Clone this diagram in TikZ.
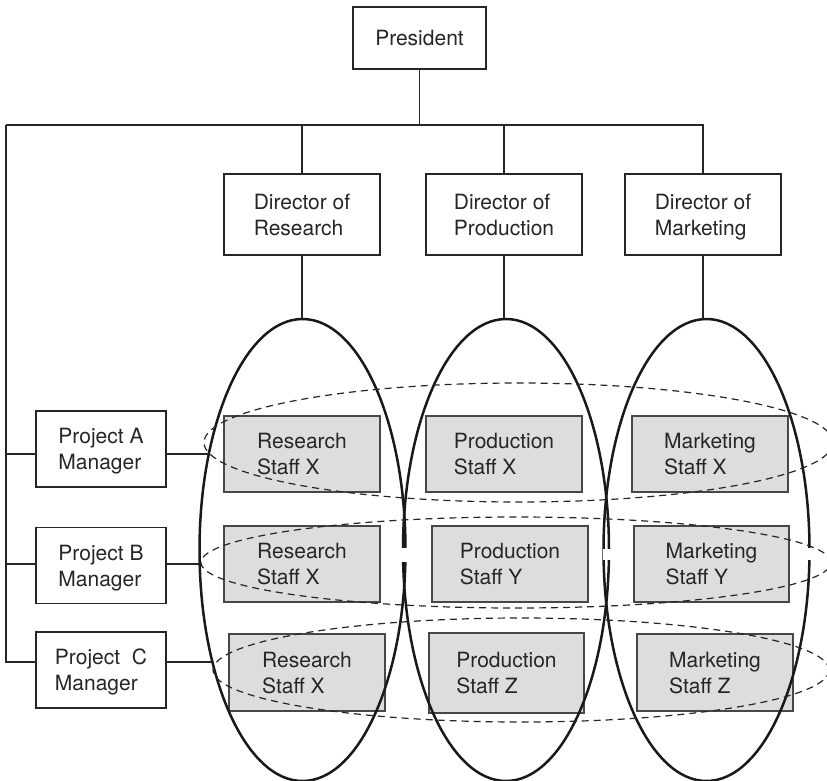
\documentclass[tikz,border=0pt]{standalone}
\usepackage{fontspec}
\setmainfont{TeX Gyre Heros}
\usetikzlibrary{shapes.geometric}
\definecolor{linec}{HTML}{262626}
\definecolor{boxgrey}{HTML}{DCDDDF}
\begin{document}
\begin{tikzpicture}[x=1pt,y=-1pt,
  lbl/.style={font=\fontsize{21}{26}\selectfont, text=linec},
  orgbox/.style={draw=linec, line width=1.4pt, fill=white, inner sep=0pt, outer sep=0pt, align=left, lbl,
    text depth=0pt},
  dirbox/.style={orgbox, minimum width=156pt, minimum height=81pt},
  mgrbox/.style={orgbox, minimum width=130pt, minimum height=76pt},
  staffbox/.style={orgbox, draw=linec!85, fill=boxgrey, minimum width=156pt, minimum height=76pt},
  conn/.style={draw=linec, line width=1.3pt},
  funcgrp/.style={ellipse, draw=black!90, line width=2.5pt, inner sep=0pt, outer sep=0pt, minimum width=206pt, minimum height=462pt},
  projgrp/.style={ellipse, draw=linec, line width=1.2pt, dash pattern=on 7pt off 5pt, inner sep=0pt, outer sep=0pt}
]
\useasboundingbox (0,0) rectangle (827,780);
\fill[white] (0,0) rectangle (827,780);

% top of the chart
\node[orgbox, minimum width=133pt, minimum height=62pt] (pres) at (419.5,38) {President};
\node[dirbox] (dres) at (302,214.5) {Director of\\Research};
\node[dirbox] (dpro) at (504,214.5) {Director of\\Production};
\node[dirbox] (dmkt) at (703,214.5) {Director of\\Marketing};

% project managers
\node[mgrbox] (pa) at (101,449) {Project A\\Manager};
\node[mgrbox, minimum height=75.5pt] (pb) at (101,565.5) {Project B\\Manager};
\node[mgrbox] (pc) at (101,670) {Project\ \ C\\Manager};

% staff
\node[staffbox] (rx1) at (302,454) {Research\\Staff X};
\node[staffbox] (rx2) at (302,564) {Research\\Staff X};
\node[staffbox, minimum height=77pt] (rx3) at (307,672.5) {Research\\Staff X};
\node[staffbox] (px) at (504,454) {Production\\Staff X};
\node[staffbox] (py) at (510,564) {Production\\Staff Y};
\node[staffbox, minimum width=155pt, minimum height=80pt] (pz) at (506.5,673) {Production\\Staff Z};
\node[staffbox] (mx) at (710,454) {Marketing\\Staff X};
\node[staffbox, minimum width=155pt] (my) at (711.5,564) {Marketing\\Staff Y};
\node[staffbox, minimum height=77pt] (mz) at (715,672.5) {Marketing\\Staff Z};

% functional groups (solid) and project groups (dashed)
\node[funcgrp] (eres) at (302.5,550) {};
\node[funcgrp] (epro) at (506,550) {};
\node[funcgrp] (emkt) at (706.5,550) {};
\node[projgrp, minimum width=629pt, minimum height=119pt] (rowa) at (518.5,442.5) {};
\node[projgrp, minimum width=630pt, minimum height=91pt] (rowb) at (516,562.5) {};
\node[projgrp, minimum width=616pt, minimum height=104pt] (rowc) at (521,670) {};

% small breaks in the solid outlines
\fill[white] (400,548) rectangle (408,562);
\fill[white] (603,549) rectangle (612,560);
\fill[white] (806,548) rectangle (813,560);

% connectors
\coordinate (busL) at (6,125);
\coordinate (ya) at (0,454);
\coordinate (yb) at (0,564);
\coordinate (yc) at (0,662);
\draw[conn] (pres.south) -- (pres.south |- busL);
\draw[conn] (busL) -- (dmkt.north |- busL) -- (dmkt.north);
\draw[conn] (dres.north |- busL) -- (dres.north);
\draw[conn] (dpro.north |- busL) -- (dpro.north);
\draw[conn] (dres.south) -- (dres.south |- eres.north);
\draw[conn] (dpro.south) -- (dpro.south |- epro.north);
\draw[conn] (dmkt.south) -- (dmkt.south |- emkt.north);
\draw[conn] (busL) -- (busL |- yc) -- (pc.west |- yc);
\draw[conn] (busL |- ya) -- (pa.west |- ya);
\draw[conn] (busL |- yb) -- (pb.west |- yb);
\draw[conn] (pa.east |- ya) -- (ya -| eres.134.3);
\draw[conn] (pb.east |- yb) -- (yb -| eres.187.8);
\draw[conn] (pc.east |- yc) -- (yc -| eres.231.2);
\end{tikzpicture}
\end{document}
